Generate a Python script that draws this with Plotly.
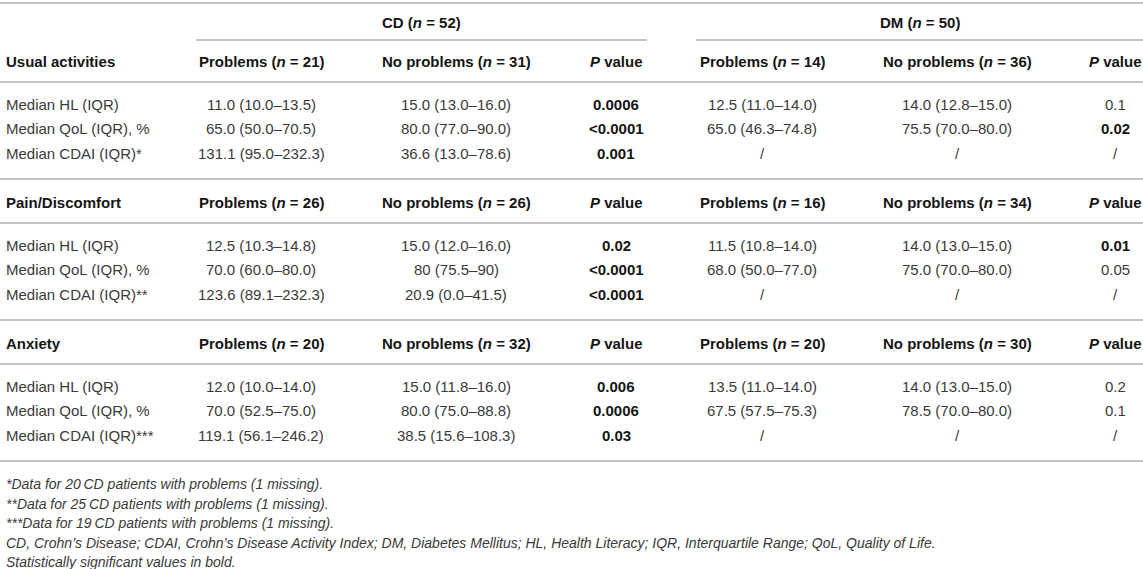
import plotly.graph_objects as go

# ---------------- data ----------------
groups = ["CD", "DM"]
group_n = [52, 50]
sections = ["Usual activities", "Pain/Discomfort", "Anxiety"]
measure_labels = ["Median HL (IQR)", "Median QoL (IQR), %", "Median CDAI (IQR)"]
cdai_marks = ["*", "**", "***"]

cd_n_prob = [21, 26, 20]
cd_n_noprob = [31, 26, 32]
dm_n_prob = [14, 16, 20]
dm_n_noprob = [36, 34, 30]

cd_prob = [
    ["11.0 (10.0–13.5)", "65.0 (50.0–70.5)", "131.1 (95.0–232.3)"],
    ["12.5 (10.3–14.8)", "70.0 (60.0–80.0)", "123.6 (89.1–232.3)"],
    ["12.0 (10.0–14.0)", "70.0 (52.5–75.0)", "119.1 (56.1–246.2)"],
]
cd_noprob = [
    ["15.0 (13.0–16.0)", "80.0 (77.0–90.0)", "36.6 (13.0–78.6)"],
    ["15.0 (12.0–16.0)", "80 (75.5–90)", "20.9 (0.0–41.5)"],
    ["15.0 (11.8–16.0)", "80.0 (75.0–88.8)", "38.5 (15.6–108.3)"],
]
cd_p = [
    ["0.0006", "<0.0001", "0.001"],
    ["0.02", "<0.0001", "<0.0001"],
    ["0.006", "0.0006", "0.03"],
]
dm_prob = [
    ["12.5 (11.0–14.0)", "65.0 (46.3–74.8)", "/"],
    ["11.5 (10.8–14.0)", "68.0 (50.0–77.0)", "/"],
    ["13.5 (11.0–14.0)", "67.5 (57.5–75.3)", "/"],
]
dm_noprob = [
    ["14.0 (12.8–15.0)", "75.5 (70.0–80.0)", "/"],
    ["14.0 (13.0–15.0)", "75.0 (70.0–80.0)", "/"],
    ["14.0 (13.0–15.0)", "78.5 (70.0–80.0)", "/"],
]
dm_p = [
    ["0.1", "0.02", "/"],
    ["0.01", "0.05", "/"],
    ["0.2", "0.1", "/"],
]
footnotes = [
    "*Data for 20\u2009CD patients with problems (1 missing).",
    "**Data for 25\u2009CD patients with problems (1 missing).",
    "***Data for 19\u2009CD patients with problems (1 missing).",
    "CD, Crohn’s Disease; CDAI, Crohn’s Disease Activity Index; DM, Diabetes Mellitus; HL, Health Literacy; IQR, Interquartile Range; QoL, Quality of Life.",
    "Statistically significant values in bold.",
]
alpha = 0.05

# ---------------- layout constants ----------------
W, H = 1143, 569
FONT = "Liberation Sans, Arial, sans-serif"
FS = 15
FS_NOTE = 14
C_REG = "#3a3a3a"
C_BOLD = "#151515"
LINE_C = "#c4c4c4"
LINE_W = 2

x_label = 4
col_x = [261, 456, 616, 762, 957, 1115]
group_span = [(196, 647), (696, 1143)]

y_top = 3
y_group = 22
y_subline = 40
sec_y0 = 61
sec_pitch = 141
head_line_off = 21
row_off = 43
row_pitch = 24.5
bottom_off = 118
note_y0 = 484
note_pitch = 19.5

annots = []
shapes = []


def txt(x, y, s, bold=False, anchor="center", size=FS, color=None, italic=False):
    if bold:
        s = "<b>" + s + "</b>"
    if italic:
        s = "<i>" + s + "</i>"
    annots.append(dict(
        x=x, y=y, xref="x", yref="y", text=s, showarrow=False,
        xanchor=anchor, yanchor="middle",
        font=dict(family=FONT, size=size, color=color or (C_BOLD if bold else C_REG)),
    ))


def hline(x0, x1, y):
    shapes.append(dict(type="line", xref="x", yref="y", x0=x0, x1=x1, y0=y, y1=y,
                       line=dict(color=LINE_C, width=LINE_W)))


def esc(s):
    return s.replace("<", "&lt;")


def is_sig(p):
    try:
        return float(p.replace("<", "")) < alpha
    except ValueError:
        return False


# top rule and group headers
hline(0, W, y_top)
for g, n, (a, b) in zip(groups, group_n, group_span):
    txt((a + b) / 2, y_group, f"{g} (<i>n</i> = {n})", bold=True)
    hline(a, b, y_subline)

for s, sec in enumerate(sections):
    yh = sec_y0 + sec_pitch * s
    if s > 0:
        hline(0, W, yh - sec_pitch + bottom_off)
    txt(x_label, yh, sec, bold=True, anchor="left")
    heads = [
        f"Problems (<i>n</i> = {cd_n_prob[s]})",
        f"No problems (<i>n</i> = {cd_n_noprob[s]})",
        "<i>P</i> value",
        f"Problems (<i>n</i> = {dm_n_prob[s]})",
        f"No problems (<i>n</i> = {dm_n_noprob[s]})",
        "<i>P</i> value",
    ]
    for x, h in zip(col_x, heads):
        txt(x, yh, h, bold=True)
    hline(0, W, yh + head_line_off)
    for r, lab in enumerate(measure_labels):
        yr = yh + row_off + row_pitch * r
        label = lab + (cdai_marks[s] if r == 2 else "")
        txt(x_label, yr, label, anchor="left")
        vals = [cd_prob[s][r], cd_noprob[s][r], cd_p[s][r],
                dm_prob[s][r], dm_noprob[s][r], dm_p[s][r]]
        for ci, (x, v) in enumerate(zip(col_x, vals)):
            bold = ci in (2, 5) and is_sig(v)
            txt(x, yr, esc(v), bold=bold)

y_bottom = sec_y0 + sec_pitch * (len(sections) - 1) + bottom_off
hline(0, W, y_bottom)

for i, note in enumerate(footnotes):
    txt(x_label, note_y0 + note_pitch * i, note, anchor="left", size=FS_NOTE, italic=True)

fig = go.Figure()
fig.update_layout(
    width=W, height=H,
    margin=dict(l=0, r=0, t=0, b=0),
    paper_bgcolor="white", plot_bgcolor="white",
    xaxis=dict(range=[0, W], visible=False, fixedrange=True),
    yaxis=dict(range=[H, 0], visible=False, fixedrange=True),
    annotations=annots, shapes=shapes, showlegend=False,
)
fig.write_html(
    "out.html",
    config={"displayModeBar": False},
    post_script="document.body.style.margin='0';document.body.style.overflow='hidden';",
)
